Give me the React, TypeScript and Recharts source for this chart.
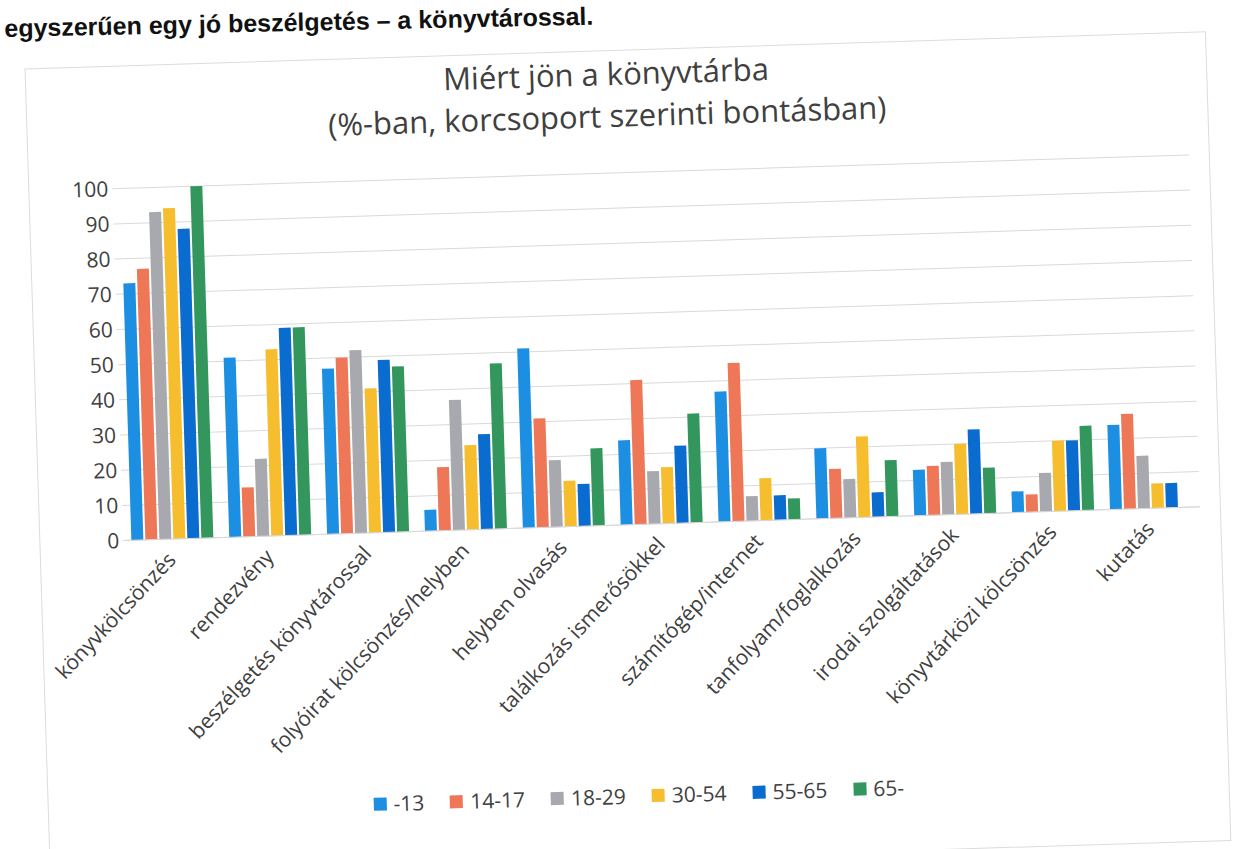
import { BarChart, Bar, XAxis, YAxis, CartesianGrid } from 'recharts'

const categories = [
  'könyvkölcsönzés',
  'rendezvény',
  'beszélgetés könyvtárossal',
  'folyóirat kölcsönzés/helyben',
  'helyben olvasás',
  'találkozás ismerősökkel',
  'számítógép/internet',
  'tanfolyam/foglalkozás',
  'irodai szolgáltatások',
  'könyvtárközi kölcsönzés',
  'kutatás',
]

const seriesNames = ['-13', '14-17', '18-29', '30-54', '55-65', '65-']
const seriesColors = ['#1c8fe3', '#ee7757', '#a8a9ae', '#f6be2e', '#0a6ccf', '#33965c']

const age13 = [73, 51, 47, 6, 51, 24, 37, 20, 13, 6, 24]
const age14to17 = [77, 14, 50, 18, 31, 41, 45, 14, 14, 5, 27]
const age18to29 = [93, 22, 52, 37, 19, 15, 7, 11, 15, 11, 15]
const age30to54 = [94, 53, 41, 24, 13, 16, 12, 23, 20, 20, 7]
const age55to65 = [88, 59, 49, 27, 12, 22, 7, 7, 24, 20, 7]
const age65 = [100, 59, 47, 47, 22, 31, 6, 16, 13, 24, null]

const yTicks = [0, 10, 20, 30, 40, 50, 60, 70, 80, 90, 100]

const seriesValues = [age13, age14to17, age18to29, age30to54, age55to65, age65]

const data = categories.map((name, i) => {
  const row: Record<string, string | number | null> = { name }
  seriesNames.forEach((s, j) => {
    row[s] = seriesValues[j][i]
  })
  return row
})

const FONT = '"Open Sans", "Noto Sans", sans-serif'

const CategoryTick = (props: any) => {
  const { x, y, payload } = props
  return (
    <g transform={`translate(${x + 4},${y + 14})`}>
      <text
        textAnchor="end"
        transform="rotate(-45)"
        fontSize={21}
        fill="#404040"
        fontFamily={FONT}
      >
        {payload.value}
      </text>
    </g>
  )
}

export default function App() {
  return (
    <div style={{ position: 'absolute', left: 0, top: 0, width: 1234, height: 849, overflow: 'hidden', background: '#fff' }}>
      <div
        style={{
          position: 'absolute',
          left: 4,
          top: 14,
          fontFamily: '"Liberation Sans", Arial, sans-serif',
          fontWeight: 'bold',
          fontSize: 25,
          lineHeight: '28px',
          color: '#111',
          transform: 'rotate(-1.2deg)',
          transformOrigin: 'left top',
          whiteSpace: 'nowrap',
        }}
      >
        egyszerűen egy jó beszélgetés – a könyvtárossal.
      </div>
      <div
        style={{
          position: 'absolute',
          left: 0,
          top: 0,
          width: 1234,
          height: 849,
          transform: 'rotate(-1.8deg)',
          transformOrigin: '617px 425px',
        }}
      >
        <div
          style={{
            position: 'absolute',
            left: 36,
            top: 50,
            width: 1180,
            height: 808,
            border: '1px solid #dcdcdc',
          }}
        />
        <div
          style={{
            position: 'absolute',
            left: 0,
            top: 52,
            width: 1234,
            textAlign: 'center',
            fontFamily: FONT,
            fontSize: 31,
            lineHeight: '42px',
            color: '#404040',
          }}
        >
          <div>Miért jön a könyvtárba</div>
          <div>(%-ban, korcsoport szerinti bontásban)</div>
        </div>
        <div style={{ position: 'absolute', left: 0, top: 0 }}>
          <BarChart
            width={1234}
            height={849}
            data={data}
            margin={{ top: 173, right: 37, left: 60, bottom: 104 }}
            barSize={12}
            barGap={2}
          >
            <CartesianGrid vertical={false} stroke="#d9d9d9" />
            <XAxis
              dataKey="name"
              interval={0}
              height={220}
              tick={<CategoryTick />}
              tickLine={false}
              axisLine={{ stroke: '#d9d9d9' }}
            />
            <YAxis
              domain={[0, 100]}
              ticks={yTicks}
              width={60}
              tickLine={false}
              axisLine={false}
              tick={{ fontSize: 21, fill: '#404040', fontFamily: FONT, dx: 4 }}
            />
            {seriesNames.map((s, j) => (
              <Bar key={s} dataKey={s} fill={seriesColors[j]} isAnimationActive={false} />
            ))}
          </BarChart>
        </div>
        <div
          style={{
            position: 'absolute',
            left: 10,
            top: 782,
            width: 1234,
            display: 'flex',
            justifyContent: 'center',
            gap: 26,
            fontFamily: FONT,
            fontSize: 21,
            color: '#404040',
          }}
        >
          {seriesNames.map((s, j) => (
            <div key={s} style={{ display: 'flex', alignItems: 'center', gap: 7 }}>
              <span style={{ width: 13, height: 13, background: seriesColors[j], display: 'inline-block' }} />
              <span>{s}</span>
            </div>
          ))}
        </div>
      </div>
    </div>
  )
}
